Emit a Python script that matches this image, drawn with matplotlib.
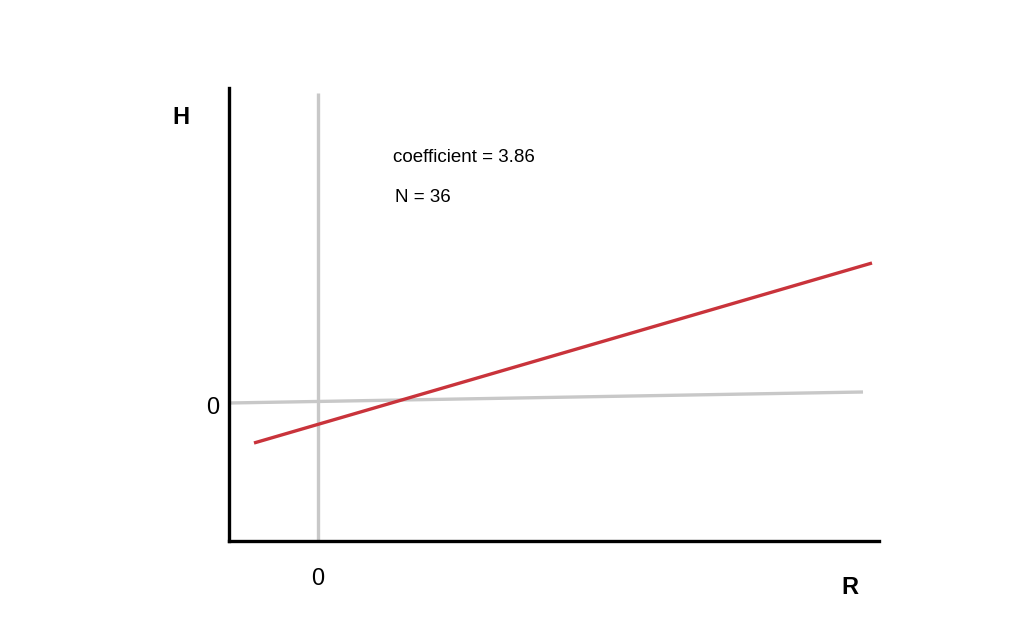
import numpy as np
import matplotlib.pyplot as plt

# line endpoints in data units (origin where the grey axes cross)
fit_x = [-0.64, 5.54]
fit_y = [-0.41, 1.39]
zero_x = [-0.89, 5.45]
zero_y = [-0.01, 0.10]
vert_x = [0, 0]
vert_y = [-1.39, 3.09]

coef_text = "coefficient = 3.86"
n_text = "N = 36"

fig = plt.figure(figsize=(10.24, 6.4), dpi=100)
ax = fig.add_axes([229 / 1024, 99 / 640, 650 / 1024, 453 / 640])
ax.set_xlim(-0.89, 5.61)
ax.set_ylim(-1.39, 3.14)

ax.plot(vert_x, vert_y, color='#c8c8c8', lw=2.4, solid_capstyle='butt')
ax.plot(zero_x, zero_y, color='#c8c8c8', lw=2.4, solid_capstyle='butt')
ax.plot(fit_x, fit_y, color='#c9333b', lw=2.4, solid_capstyle='butt')

for s in ['top', 'right']:
    ax.spines[s].set_visible(False)
for s in ['left', 'bottom']:
    ax.spines[s].set_linewidth(2.4)
    ax.spines[s].set_color('black')
ax.set_xticks([])
ax.set_yticks([])

font = 'Liberation Sans'
fig.text(181 / 1024, 1 - 118 / 640, 'H', fontsize=17, fontweight='bold',
         family=font, ha='center', va='center')
fig.text(850 / 1024, 1 - 587 / 640, 'R', fontsize=17, fontweight='bold',
         family=font, ha='center', va='center')
ax.text(-0.99, -0.06, '0', fontsize=17, family=font, ha='right', va='center')
ax.text(0, -1.77, '0', fontsize=17, family=font, ha='center', va='center')
ax.text(0.75, 2.44, coef_text, fontsize=13.5, family=font, ha='left', va='center')
ax.text(0.77, 2.04, n_text, fontsize=13.5, family=font, ha='left', va='center')
for t in ax.texts:
    t.set_clip_on(False)

fig.savefig('out.png', dpi=100, facecolor='white')
